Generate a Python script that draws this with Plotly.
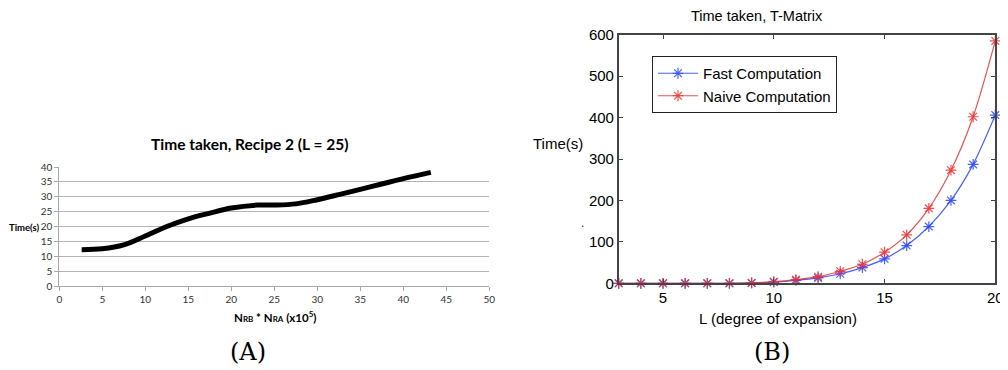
import plotly.graph_objects as go

# the page body has an 8px margin, so the figure is drawn 8px in from the top-left
OFF = 8
W, H = 1008, 370
FW, FH = W - OFF, H - OFF

# Panel A data
a_x = [2.6, 5, 7.5, 10, 12.5, 15, 17.5, 20, 23, 25, 27.5, 30, 32.5, 35, 37.5, 40, 43.2]
a_y = [12.2, 12.5, 13.8, 16.8, 20.0, 22.6, 24.5, 26.2, 27.2, 27.2, 27.6, 29.0, 30.7, 32.5, 34.3, 36.1, 38.2]

# Panel B data
b_L = list(range(3, 21))
b_fast = [0, 0, 0, 0, 0, 0, 1, 3, 7, 13, 23, 38, 59, 91, 137, 200, 287, 406]
b_naive = [0, 0, 0, 0, 0, 0, 1, 4, 9, 16, 29, 46, 75, 117, 181, 273, 402, 585]


def px(x):
    return (x - OFF) / FW


def py(y):
    return (H - y) / FH


fig = go.Figure()

fig.add_trace(go.Scatter(
    x=a_x, y=a_y, mode="lines", line=dict(color="black", width=5, shape="spline", smoothing=1.0),
    xaxis="x", yaxis="y", showlegend=False, hoverinfo="skip"))

blue = "rgba(40,70,255,0.85)"
red = "rgba(235,50,50,0.85)"
fig.add_trace(go.Scatter(
    x=b_L, y=b_fast, mode="lines+markers", name="Fast Computation",
    line=dict(color=blue, width=1.2, shape="spline", smoothing=0.8),
    marker=dict(symbol="asterisk-open", size=9, color=blue, line=dict(color=blue, width=1.2)),
    xaxis="x2", yaxis="y2", cliponaxis=False))
fig.add_trace(go.Scatter(
    x=b_L, y=b_naive, mode="lines+markers", name="Naive Computation",
    line=dict(color=red, width=1.2, shape="spline", smoothing=0.8),
    marker=dict(symbol="asterisk-open", size=9, color=red, line=dict(color=red, width=1.2)),
    xaxis="x2", yaxis="y2", cliponaxis=False))

fontA = "Lato, 'Open Sans', sans-serif"
fontB = "'Liberation Sans', Arial, sans-serif"
fontS = "'DejaVu Serif', 'Liberation Serif', serif"

fig.update_layout(
    width=FW, height=FH, margin=dict(l=0, r=0, t=0, b=0, pad=0, autoexpand=False),
    paper_bgcolor="white", plot_bgcolor="white",
    showlegend=True,
    legend=dict(x=px(652), y=py(56), xanchor="left", yanchor="top",
                bordercolor="#222", borderwidth=1, bgcolor="white",
                font=dict(family=fontB, size=15, color="black"),
                tracegroupgap=0, itemwidth=40),
    xaxis=dict(domain=[px(59.3), px(489.3)], range=[0, 50], dtick=5, anchor="y", automargin=False,
               showline=True, linecolor="#a8a8a8", linewidth=1, ticks="outside", ticklen=4,
               tickcolor="#a8a8a8", showgrid=False, zeroline=False,
               tickfont=dict(family=fontA, size=10, color="#333")),
    yaxis=dict(domain=[py(286), py(167)], range=[0, 40], dtick=5, anchor="x", automargin=False,
               showline=True, linecolor="#a8a8a8", linewidth=1, ticks="outside", ticklen=4,
               tickcolor="#a8a8a8", showgrid=True, gridcolor="#b4b4b4", gridwidth=1,
               zeroline=False, tickfont=dict(family=fontA, size=10, color="#333")),
    xaxis2=dict(domain=[px(618.7), px(995.3)], range=[3, 20], tickvals=[5, 10, 15, 20], anchor="y2",
                automargin=False,
                showline=True, mirror="ticks", linecolor="#444", linewidth=1.5, ticks="inside",
                ticklen=5, tickcolor="#444", showgrid=False, zeroline=False,
                tickfont=dict(family=fontB, size=15, color="black")),
    yaxis2=dict(domain=[py(283.3), py(34.7)], range=[0, 600], dtick=100, anchor="x2",
                automargin=False,
                showline=True, mirror="ticks", linecolor="#444", linewidth=1.5, ticks="inside",
                ticklen=5, tickcolor="#444", showgrid=False, zeroline=False,
                tickfont=dict(family=fontB, size=15, color="black")),
)

ann = [
    dict(x=px(249), y=py(144), text="<b>Time taken, Recipe 2 (L = 25)</b>",
         font=dict(family=fontA, size=15.5, color="black")),
    dict(x=px(24), y=py(227), text="<b>Time(s)</b>", font=dict(family=fontA, size=9.5, color="black")),
    dict(x=px(275), y=py(316),
         text="<b>N<span style='font-size:8px'>RB</span> * N<span style='font-size:8px'>RA</span> (x10<sup>5</sup>)</b>",
         font=dict(family=fontA, size=11.5, color="black")),
    dict(x=px(248), y=py(352), text="(A)", font=dict(family=fontS, size=24, color="black")),
    dict(x=px(757), y=py(16), text="Time taken, T-Matrix", font=dict(family=fontB, size=14.5, color="black")),
    dict(x=px(558), y=py(143), text="Time(s)", font=dict(family=fontB, size=15, color="black")),
    dict(x=px(582), y=py(223), text=".", font=dict(family=fontB, size=12, color="#113")),
    dict(x=px(778), y=py(318), text="L (degree of expansion)", font=dict(family=fontB, size=15, color="black")),
    dict(x=px(772), y=py(352), text="(B)", font=dict(family=fontS, size=24, color="black")),
]
for a in ann:
    a.update(xref="paper", yref="paper", showarrow=False, xanchor="center", yanchor="middle", borderpad=0)
fig.update_layout(annotations=ann)

fig.write_html("out.html")
